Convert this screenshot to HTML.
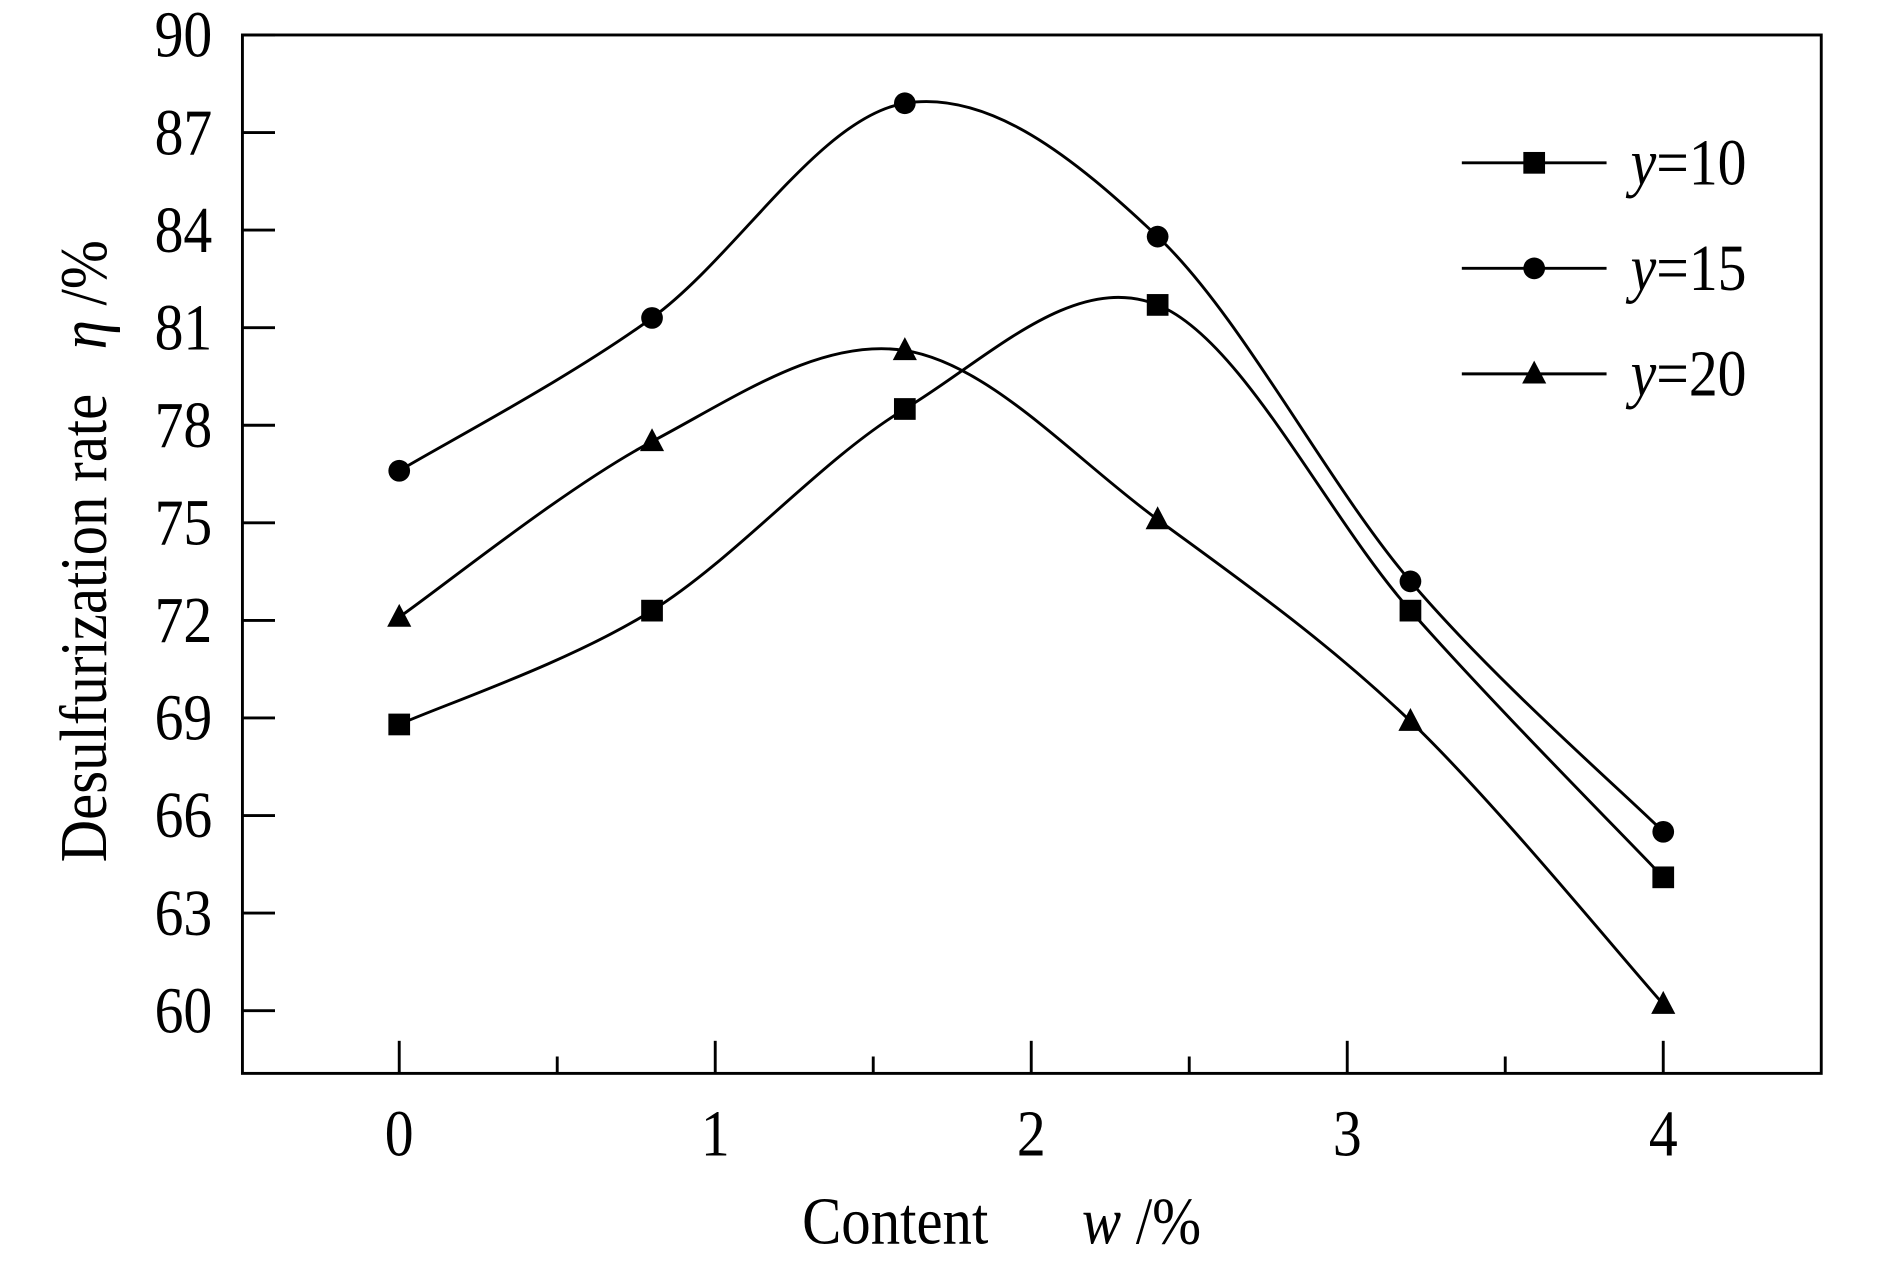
<!DOCTYPE html>
<html><head><meta charset="utf-8"><style>
html,body{margin:0;padding:0;background:#fff;}
svg{display:block;}
text{font-family:"Liberation Serif",serif;fill:#000;}
</style></head><body>
<svg id="chart" width="1890" height="1276" viewBox="0 0 1567 1058" preserveAspectRatio="none" xmlns="http://www.w3.org/2000/svg">
<rect x="201" y="29" width="1309" height="861" fill="none" stroke="#000" stroke-width="2.4"/>
<g id="axes"></g>
<g id="series"></g>
<g id="legend"></g>
<text transform="translate(665,1031) scale(0.92,1.05)" font-size="53">Content</text>
<text transform="translate(897,1031) scale(0.92,1.05)" font-size="53"><tspan font-style="italic">w</tspan> /%</text>
<text transform="translate(88,715) rotate(-90) scale(0.92,1.05)" font-size="53">Desulfurization rate<tspan dx="40" font-style="italic">η</tspan> /%</text>
</svg>
<script>
const xValues = [0, 0.8, 1.6, 2.4, 3.2, 4];
const seriesNames = ["y=10", "y=15", "y=20"];
const y10 = [68.8, 72.3, 78.5, 81.7, 72.3, 64.1];
const y15 = [76.6, 81.3, 87.9, 83.8, 73.2, 65.5];
const y20 = [72.1, 77.5, 80.3, 75.1, 68.9, 60.2];
const yTicks = [60, 63, 66, 69, 72, 75, 78, 81, 84, 87, 90];
const xTicks = [0, 1, 2, 3, 4];
const xMinorTicks = [0.5, 1.5, 2.5, 3.5];

const NS = "http://www.w3.org/2000/svg";
const sx = v => 331 + v * 262;
const sy = v => 838 - (v - 60) * (809 / 30);
const BOTTOM = 890, LEFT = 201;
function mk(tag, attrs, parent) {
  const e = document.createElementNS(NS, tag);
  for (const k in attrs) e.setAttribute(k, attrs[k]);
  parent.appendChild(e);
  return e;
}
const axes = document.getElementById('axes');
yTicks.forEach(t => {
  const l = mk('line', {x1: LEFT, x2: LEFT + 27, y1: sy(t), y2: sy(t), stroke: '#000', 'stroke-width': 2.4}, axes);
  
  
  const tx = mk('text', {transform: `translate(176,${sy(t) + 18}) scale(0.92,1.05)`, 'font-size': 52, 'text-anchor': 'end'}, axes);
  tx.textContent = t;
  
  
});
xTicks.forEach(t => {
  const l = mk('line', {x1: sx(t), x2: sx(t), y1: BOTTOM, y2: BOTTOM - 27, stroke: '#000', 'stroke-width': 2.4}, axes);
  
  
  const tx = mk('text', {transform: `translate(${sx(t)},958) scale(0.92,1.05)`, 'font-size': 52, 'text-anchor': 'middle'}, axes);
  tx.textContent = t;
  
  
});
xMinorTicks.forEach(t => {
  const l = mk('line', {x1: sx(t), x2: sx(t), y1: BOTTOM, y2: BOTTOM - 14, stroke: '#000', 'stroke-width': 2.4}, axes);
  
  
});

function splinePath(xs, ys) {
  const p = xs.map((x, i) => [sx(x), sy(ys[i])]);
  let d = `M${p[0][0]},${p[0][1]}`;
  for (let i = 0; i < p.length - 1; i++) {
    const p0 = p[Math.max(0, i - 1)], p1 = p[i], p2 = p[i + 1], p3 = p[Math.min(p.length - 1, i + 2)];
    const c1 = [p1[0] + (p2[0] - p0[0]) / 6, p1[1] + (p2[1] - p0[1]) / 6];
    const c2 = [p2[0] - (p3[0] - p1[0]) / 6, p2[1] - (p3[1] - p1[1]) / 6];
    d += ` C${c1[0]},${c1[1]} ${c2[0]},${c2[1]} ${p2[0]},${p2[1]}`;
  }
  return d;
}
function marker(kind, x, y, parent) {
  let m;
  if (kind === 'square') m = mk('rect', {x: x - 9, y: y - 9, width: 18, height: 18, fill: '#000'}, parent);
  else if (kind === 'circle') m = mk('circle', {cx: x, cy: y, r: 9, fill: '#000'}, parent);
  else m = mk('polygon', {points: `${x},${y - 11} ${x - 10},${y + 8} ${x + 10},${y + 8}`, fill: '#000'}, parent);
  return m;
}
const seriesG = document.getElementById('series');
const legendG = document.getElementById('legend');
const allSeries = [y10, y15, y20];
const kinds = ['square', 'circle', 'triangle'];
allSeries.forEach((ys, si) => {
  const path = mk('path', {d: splinePath(xValues, ys), fill: 'none', stroke: '#000', 'stroke-width': 2.4}, seriesG);
  
  
  ys.forEach((v, i) => {
    const m = marker(kinds[si], sx(xValues[i]), sy(v), seriesG);
    
    
  });
  const ly = 135 + si * 87.5;
  const ll = mk('line', {x1: 1212, x2: 1332, y1: ly, y2: ly, stroke: '#000', 'stroke-width': 2.4}, legendG);
  
  
  const lm = marker(kinds[si], 1272, ly, legendG);
  
  
  const lt = mk('text', {transform: `translate(1352,${ly + 18}) scale(0.92,1.05)`, 'font-size': 52}, legendG);
  lt.innerHTML = '<tspan font-style="italic">y</tspan>=' + seriesNames[si].split('=')[1];
  
  
});
</script>
</body></html>
